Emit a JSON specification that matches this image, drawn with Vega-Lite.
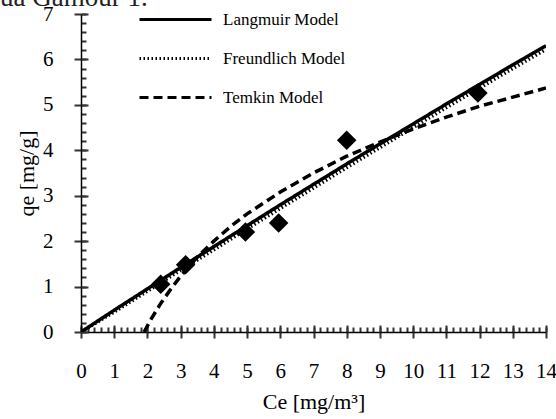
{
  "$schema": "https://vega.github.io/schema/vega-lite/v6.json",
  "width": 465,
  "height": 318,
  "autosize": {"type": "none"},
  "padding": {"left": 81, "top": 14, "right": 10, "bottom": 87},
  "background": "white",
  "title": {
    "text": "ua Gamour 1.",
    "anchor": "start",
    "frame": "group",
    "font": "Liberation Serif",
    "fontSize": 27,
    "fontWeight": "normal",
    "color": "#222222",
    "baseline": "alphabetic",
    "offset": 0,
    "dx": -81,
    "dy": 30
  },
  "datasets": {
    "points": [
      {"Ce": 2.4, "qe": 1.05},
      {"Ce": 3.15, "qe": 1.48},
      {"Ce": 4.95, "qe": 2.2},
      {"Ce": 5.95, "qe": 2.4},
      {"Ce": 8.0, "qe": 4.22},
      {"Ce": 11.95, "qe": 5.26}
    ],
    "models": [
      {"model": "Langmuir Model", "Ce": 0, "qe": 0},
      {"model": "Langmuir Model", "Ce": 1, "qe": 0.48},
      {"model": "Langmuir Model", "Ce": 2, "qe": 0.95},
      {"model": "Langmuir Model", "Ce": 3, "qe": 1.42},
      {"model": "Langmuir Model", "Ce": 4, "qe": 1.88},
      {"model": "Langmuir Model", "Ce": 5, "qe": 2.34},
      {"model": "Langmuir Model", "Ce": 6, "qe": 2.8},
      {"model": "Langmuir Model", "Ce": 7, "qe": 3.25},
      {"model": "Langmuir Model", "Ce": 8, "qe": 3.7},
      {"model": "Langmuir Model", "Ce": 9, "qe": 4.14},
      {"model": "Langmuir Model", "Ce": 10, "qe": 4.58},
      {"model": "Langmuir Model", "Ce": 11, "qe": 5.02},
      {"model": "Langmuir Model", "Ce": 12, "qe": 5.45},
      {"model": "Langmuir Model", "Ce": 13, "qe": 5.88},
      {"model": "Langmuir Model", "Ce": 14, "qe": 6.3},
      {"model": "Freundlich Model", "Ce": 0, "qe": 0},
      {"model": "Freundlich Model", "Ce": 1, "qe": 0.44},
      {"model": "Freundlich Model", "Ce": 2, "qe": 0.9},
      {"model": "Freundlich Model", "Ce": 3, "qe": 1.36},
      {"model": "Freundlich Model", "Ce": 4, "qe": 1.81},
      {"model": "Freundlich Model", "Ce": 5, "qe": 2.27},
      {"model": "Freundlich Model", "Ce": 6, "qe": 2.72},
      {"model": "Freundlich Model", "Ce": 7, "qe": 3.17},
      {"model": "Freundlich Model", "Ce": 8, "qe": 3.62},
      {"model": "Freundlich Model", "Ce": 9, "qe": 4.06},
      {"model": "Freundlich Model", "Ce": 10, "qe": 4.5},
      {"model": "Freundlich Model", "Ce": 11, "qe": 4.94},
      {"model": "Freundlich Model", "Ce": 12, "qe": 5.37},
      {"model": "Freundlich Model", "Ce": 13, "qe": 5.8},
      {"model": "Freundlich Model", "Ce": 14, "qe": 6.22},
      {"model": "Temkin Model", "Ce": 1.9, "qe": 0},
      {"model": "Temkin Model", "Ce": 2.1, "qe": 0.27},
      {"model": "Temkin Model", "Ce": 2.4, "qe": 0.63},
      {"model": "Temkin Model", "Ce": 2.7, "qe": 0.94},
      {"model": "Temkin Model", "Ce": 3, "qe": 1.23},
      {"model": "Temkin Model", "Ce": 3.5, "qe": 1.65},
      {"model": "Temkin Model", "Ce": 4, "qe": 2.0},
      {"model": "Temkin Model", "Ce": 4.5, "qe": 2.32},
      {"model": "Temkin Model", "Ce": 5, "qe": 2.6},
      {"model": "Temkin Model", "Ce": 6, "qe": 3.08},
      {"model": "Temkin Model", "Ce": 7, "qe": 3.5},
      {"model": "Temkin Model", "Ce": 8, "qe": 3.87},
      {"model": "Temkin Model", "Ce": 9, "qe": 4.18},
      {"model": "Temkin Model", "Ce": 10, "qe": 4.47},
      {"model": "Temkin Model", "Ce": 11, "qe": 4.73},
      {"model": "Temkin Model", "Ce": 12, "qe": 4.97},
      {"model": "Temkin Model", "Ce": 13, "qe": 5.17},
      {"model": "Temkin Model", "Ce": 14, "qe": 5.37}
    ]
  },
  "layer": [
    {
      "data": {"name": "models"},
      "mark": {"type": "line", "color": "black", "clip": true, "strokeWidth": 3.5},
      "encoding": {
        "x": {
          "field": "Ce", "type": "quantitative",
          "scale": {"domain": [0, 14], "nice": false, "zero": false},
          "axis": {
            "orient": "bottom",
            "values": [0,0.2,0.4,0.6,0.8,1,1.2,1.4,1.6,1.8,2,2.2,2.4,2.6,2.8,3,3.2,3.4,3.6,3.8,4,4.2,4.4,4.6,4.8,5,5.2,5.4,5.6,5.8,6,6.2,6.4,6.6,6.8,7,7.2,7.4,7.6,7.8,8,8.2,8.4,8.6,8.8,9,9.2,9.4,9.6,9.8,10,10.2,10.4,10.6,10.8,11,11.2,11.4,11.6,11.8,12,12.2,12.4,12.6,12.8,13,13.2,13.4,13.6,13.8,14],
            "ticks": true, "tickSize": -5, "labels": false, "domain": false, "title": null, "grid": false,
            "tickColor": "#333333", "tickOpacity": 1, "tickWidth": 2
          }
        },
        "y": {
          "field": "qe", "type": "quantitative",
          "scale": {"domain": [0, 7], "nice": false, "zero": false},
          "axis": {
            "orient": "left",
            "values": [0,0.2,0.4,0.6,0.8,1,1.2,1.4,1.6,1.8,2,2.2,2.4,2.6,2.8,3,3.2,3.4,3.6,3.8,4,4.2,4.4,4.6,4.8,5,5.2,5.4,5.6,5.8,6,6.2,6.4,6.6,6.8,7],
            "ticks": true, "tickSize": -5, "labels": false, "domain": false, "title": null, "grid": false,
            "tickColor": "#333333", "tickOpacity": 1, "tickWidth": 2
          }
        },
        "detail": {"field": "model"},
        "strokeDash": {
          "field": "model", "type": "nominal",
          "scale": {"domain": ["Langmuir Model", "Freundlich Model", "Temkin Model"], "range": [[1, 0], [1.5, 2.5], [9, 5]]},
          "legend": {
            "title": null,
            "orient": "none",
            "legendX": 81,
            "legendY": -8,
            "symbolType": "M-3,0H3",
            "symbolSize": 576,
            "symbolStrokeColor": "black",
            "symbolFillColor": "transparent",
            "symbolStrokeWidth": 3,
            "labelFont": "Liberation Serif",
            "labelFontSize": 17,
            "labelColor": "black",
            "labelOffset": 34,
            "labelLimit": 300,
            "rowPadding": 17,
            "padding": 0
          }
        },
        "order": {"field": "Ce", "type": "quantitative"}
      }
    },
    {
      "data": {"name": "points"},
      "mark": {"type": "point", "shape": "diamond", "filled": true, "color": "black", "size": 380, "opacity": 1},
      "encoding": {
        "x": {
          "field": "Ce", "type": "quantitative",
          "axis": {
            "orient": "bottom",
            "values": [0,1,2,3,4,5,6,7,8,9,10,11,12,13,14],
            "ticks": true, "tickSize": 6, "tickColor": "#333333", "tickOpacity": 1, "tickWidth": 2,
            "domainColor": "black", "domainWidth": 1.5,
            "labelFont": "Liberation Serif", "labelFontSize": 21, "labelColor": "black",
            "labelPadding": 22, "labelFlush": false, "labelOverlap": false,
            "grid": false,
            "title": "Ce [mg/m³]",
            "titleFont": "Liberation Serif", "titleFontSize": 22, "titleFontWeight": "normal",
            "titleColor": "black", "titlePadding": 10
          }
        },
        "y": {
          "field": "qe", "type": "quantitative",
          "axis": {
            "orient": "left",
            "values": [0,1,2,3,4,5,6,7],
            "ticks": true, "tickSize": 7, "tickColor": "#333333", "tickOpacity": 1, "tickWidth": 2,
            "domainColor": "black", "domainWidth": 1.5,
            "labelFont": "Liberation Serif", "labelFontSize": 21, "labelColor": "black",
            "labelPadding": 21, "labelFlush": false, "labelOverlap": false,
            "grid": false,
            "title": "qe [mg/g]",
            "titleFont": "Liberation Serif", "titleFontSize": 22, "titleFontWeight": "normal",
            "titleColor": "black", "titlePadding": 4
          }
        }
      }
    },
    {
      "data": {"name": "points"},
      "mark": {"type": "point", "opacity": 0},
      "encoding": {
        "x": {
          "field": "Ce", "type": "quantitative",
          "axis": {
            "orient": "bottom",
            "values": [0,1,2,3,4,5,6,7,8,9,10,11,12,13,14],
            "ticks": true, "tickSize": -7, "labels": false, "domain": false, "title": null, "grid": false,
            "tickColor": "#333333", "tickOpacity": 1, "tickWidth": 2
          }
        },
        "y": {
          "field": "qe", "type": "quantitative",
          "axis": {
            "orient": "left",
            "values": [0,1,2,3,4,5,6,7],
            "ticks": true, "tickSize": -7, "labels": false, "domain": false, "title": null, "grid": false,
            "tickColor": "#333333", "tickOpacity": 1, "tickWidth": 2
          }
        }
      }
    }
  ],
  "resolve": {"axis": {"x": "independent", "y": "independent"}},
  "config": {
    "view": {"stroke": null},
    "font": "Liberation Serif"
  }
}
